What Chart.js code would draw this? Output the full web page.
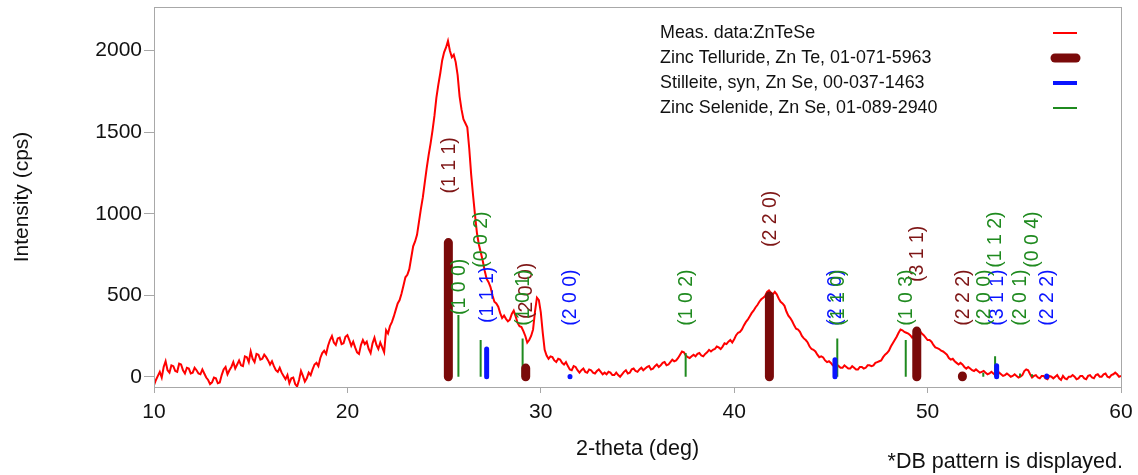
<!DOCTYPE html>
<html>
<head>
<meta charset="utf-8">
<script src="https://cdn.jsdelivr.net/npm/chart.js@4.4.1/dist/chart.umd.min.js"></script>
<style>
  html, body { margin: 0; padding: 0; background: #fff; }
  #wrap { width: 1138px; height: 475px; }
</style>
</head>
<body>
<div id="wrap"><canvas id="xrd" width="1138" height="475"></canvas></div>
<script>
// measured pattern, one value every 0.1 deg from 10 to 60 (one row per degree)
const thetaStart = 10
const thetaStep = 0.1
const measCps = [
  -51, -20, 5, 30, -5, 60, 95, 40, 25, 70,
  65, 35, 30, 80, 75, 40, 20, 55, 50, 20,
  25, 55, 40, 20, 15, 45, 20, -5, -20, -45,
  -35, -5, -10, -40, -35, 10, 45, 60, 15, 40,
  60, 90, 50, 75, 100, 70, 65, 125, 120, 90,
  155, 110, 90, 140, 135, 105, 110, 135, 120, 100,
  75, 95, 65, 40, 30, 55, 25, 5, -15, 10,
  -40, -10, -5, -45, -60, -20, 35, 5, -30, -10,
  25, 10, 45, 75, 85, 65, 115, 145, 160, 140,
  190, 225, 250, 210, 195, 235, 240, 200, 205, 245,
  255, 225, 190, 215, 180, 150, 140, 195, 225, 200,
  215, 170, 145, 205, 240, 195, 170, 210, 180, 150,
  285, 265, 310, 335, 370, 410, 450, 470, 510, 560,
  610, 625, 660, 730, 800, 830, 870, 950, 1030, 1100,
  1190, 1280, 1360, 1430, 1510, 1600, 1710, 1790, 1860, 1940,
  1990, 2020, 2060, 2000, 1960, 1975, 1930, 1850, 1720, 1640,
  1580, 1555, 1530, 1400, 1240, 1110, 990, 880, 810, 760,
  710, 650, 600, 580, 550, 500, 460, 450, 430, 390,
  360, 375, 355, 340, 350, 385, 405, 370, 330, 310,
  305, 280, 250, 210, 225, 250, 290, 400, 485, 470,
  395, 270, 165, 130, 110, 125, 120, 100, 90, 110,
  105, 85, 75, 90, 65, 45, 40, 65, 60, 40,
  25, 40, 50, 30, 25, 45, 40, 25, 20, 35,
  45, 30, 15, 25, 15, 30, 25, 10, 10, 25,
  10, 0, 15, 30, 40, 20, 25, 45, 50, 35,
  30, 45, 55, 40, 50, 60, 65, 45, 50, 65,
  75, 60, 70, 85, 90, 70, 75, 90, 105, 95,
  100, 115, 135, 155, 150, 130, 120, 115, 125, 135,
  125, 140, 145, 130, 125, 140, 150, 165, 155, 165,
  170, 185, 180, 170, 185, 205, 200, 215, 225, 210,
  230, 255, 270, 275, 290, 315, 335, 350, 370, 390,
  405, 425, 440, 460, 475, 485, 495, 520, 530, 515,
  505, 520, 505, 480, 460, 450, 435, 400, 375, 360,
  340, 315, 295, 290, 275, 250, 235, 225, 210, 185,
  170, 165, 155, 135, 120, 125, 118, 100, 90, 95,
  85, 70, 65, 75, 65, 55, 55, 70, 60, 50,
  50, 65, 55, 45, 45, 60, 60, 50, 55, 70,
  70, 65, 70, 85, 90, 95, 100, 120, 135, 145,
  160, 185, 205, 225, 245, 270, 290, 285, 275, 270,
  265, 255, 240, 255, 275, 285, 280, 265, 255, 240,
  225, 225, 215, 195, 180, 175, 170, 160, 155, 145,
  135, 115, 105, 110, 95, 85, 75, 85, 75, 60,
  50, 60, 50, 40, 35, 45, 35, 25, 30, 35,
  25, 15, 20, 30, 20, 10, 15, 25, 15, 5,
  10, 20, 10, 0, 5, 15, 5, -5, 0, 10,
  35, 45, 40, 15, -5, 5, 10, -5, -10, 5,
  5, -10, -15, 5, 0, -10, 0, 10, -10, -20,
  5, -10, -15, 0, 0, 10, 0, -15, -10, 5,
  5, -10, -15, 5, 10, -5, -10, 10, 15, 0,
  0, 15, 20, 0, -5, 10, 15, 25, 15, 0,
  5
]

const xTicks = [10, 20, 30, 40, 50, 60]
const yTicks = [0, 500, 1000, 1500, 2000]

// DB patterns
const znteTheta = [25.22, 29.22, 41.82, 49.44, 51.80]
const znteInt   = [823, 53, 495, 280, 5]
const znteHkl   = ['(1 1 1)', '(2 0 0)', '(2 2 0)', '(3 1 1)', '(2 2 2)']

const stilTheta = [27.20, 31.51, 45.21, 53.57, 56.16]
const stilInt   = [170, 2, 104, 67, 4]
const stilHkl   = ['(1 1 1)', '(2 0 0)', '(2 2 0)', '(3 1 1)', '(2 2 2)']

const znseTheta = [25.74, 26.89, 29.06, 37.49, 45.33, 48.87, 52.88, 53.49, 54.78, 55.40]
const znseInt   = [378, 225, 235, 145, 235, 225, 25, 125, 20, 15]
const znseHkl   = ['(1 0 0)', '(0 0 2)', '(1 0 1)', '(1 0 2)', '(1 1 0)', '(1 0 3)', '(2 0 0)', '(1 1 2)', '(2 0 1)', '(0 0 4)']
const znseTier  = [0, 1, 0, 0, 0, 0, 0, 1, 0, 1]

const legendNames = [
    'Meas. data:ZnTeSe',
    'Zinc Telluride, Zn Te, 01-071-5963',
    'Stilleite, syn, Zn Se, 00-037-1463',
    'Zinc Selenide, Zn Se, 01-089-2940'
]

const RED = '#ff0000'
const MAROON = '#7a0a0a'
const BLUE = '#0a14ff'
const GREEN = '#1f8a1f'
const FONT = '"Liberation Sans", Arial, sans-serif'

const measData = measCps.map((v, i) => ({x: thetaStart + i * thetaStep, y: v}))

function sticks(theta, ints){
    const d = []
    theta.forEach((t, i) => {
        d.push({x: t, y: 0}, {x: t, y: ints[i]}, {x: t, y: null})
    })
    return d
}

const phases = [
    {theta: znteTheta, ints: znteInt, hkl: znteHkl, color: '#7e1616', gap: 49},
    {theta: stilTheta, ints: stilInt, hkl: stilHkl, color: BLUE, gap: 26},
    {theta: znseTheta, ints: znseInt, hkl: znseHkl, color: GREEN, gap: 0, tier: znseTier}
]

// hkl labels, rotated, above the sticks
const hklLabels = {
    id: 'hklLabels',
    afterDatasetsDraw(chart){
        const {ctx, scales: {x, y}} = chart
        const base = y.getPixelForValue(312)
        ctx.save()
        ctx.font = '19.5px ' + FONT
        ctx.textAlign = 'left'
        ctx.textBaseline = 'middle'
        phases.forEach(p => {
            p.theta.forEach((t, i) => {
                const px = x.getPixelForValue(t)
                let bottom = Math.min(y.getPixelForValue(p.ints[i]) - p.gap, base)
                if (p.tier) bottom -= p.tier[i] * 58
                ctx.save()
                ctx.translate(px + 1, bottom)
                ctx.rotate(-Math.PI / 2)
                ctx.fillStyle = p.color
                ctx.fillText(p.hkl[i], 0, 0)
                ctx.restore()
            })
        })
        ctx.restore()
    }
}

// frame, legend at top right, footnote
const decorations = {
    id: 'decorations',
    afterDraw(chart){
        const {ctx, chartArea: a} = chart
        ctx.save()
        ctx.strokeStyle = '#a8a8a8'
        ctx.lineWidth = 1
        ctx.strokeRect(a.left + 0.5, a.top + 0.5, a.right - a.left, a.bottom - a.top)

        ctx.font = '17.9px ' + FONT
        ctx.fillStyle = '#111'
        ctx.textBaseline = 'middle'
        ctx.textAlign = 'left'
        const styles = [
            {c: RED, w: 2},
            {c: MAROON, w: 9},
            {c: BLUE, w: 4},
            {c: GREEN, w: 2}
        ]
        legendNames.forEach((name, i) => {
            const yy = 33 + i * 25
            ctx.fillText(name, 660, yy)
            ctx.beginPath()
            ctx.lineCap = i === 1 ? 'round' : 'butt'
            ctx.strokeStyle = styles[i].c
            ctx.lineWidth = styles[i].w
            const x0 = i === 1 ? 1055 : 1053
            const x1 = i === 1 ? 1076 : 1077
            ctx.moveTo(x0, yy)
            ctx.lineTo(x1, yy)
            ctx.stroke()
        })

        ctx.font = '21.5px ' + FONT
        ctx.fillStyle = '#111'
        ctx.textAlign = 'right'
        ctx.fillText('*DB pattern is displayed.', 1123, 462)
        ctx.restore()
    }
}

const config = {
    type: 'line',
    data: {
        datasets: [{
            label: legendNames[0],
            data: measData,
            borderColor: RED,
            borderWidth: 2,
            pointRadius: 0,
            tension: 0,
            order: 4
        }, {
            label: legendNames[1],
            data: sticks(znteTheta, znteInt),
            borderColor: MAROON,
            borderWidth: 9,
            borderCapStyle: 'round',
            pointRadius: 0,
            spanGaps: false,
            order: 1
        }, {
            label: legendNames[2],
            data: sticks(stilTheta, stilInt),
            borderColor: BLUE,
            borderWidth: 5,
            borderCapStyle: 'round',
            pointRadius: 0,
            spanGaps: false,
            order: 2
        }, {
            label: legendNames[3],
            data: sticks(znseTheta, znseInt),
            borderColor: GREEN,
            borderWidth: 2,
            pointRadius: 0,
            spanGaps: false,
            order: 3
        }]
    },
    options: {
        responsive: false,
        animation: false,
        layout: {
            padding: {left: 0, top: 7, right: 17, bottom: 0}
        },
        scales: {
            x: {
                type: 'linear',
                min: 10,
                max: 60,
                afterBuildTicks: s => { s.ticks = xTicks.map(v => ({value: v})) },
                afterFit: s => { s.height = 88; s.paddingLeft = 0; s.paddingRight = 0 },
                grid: {drawOnChartArea: false, color: '#a8a8a8', tickLength: 6},
                border: {color: '#a8a8a8'},
                ticks: {
                    color: '#111',
                    padding: 7,
                    maxRotation: 0,
                    font: {family: FONT, size: 21}
                },
                title: {
                    display: true,
                    text: '2-theta (deg)',
                    color: '#111',
                    font: {family: FONT, size: 21.5},
                    padding: {top: 0, bottom: 13}
                }
            },
            y: {
                min: -63,
                max: 2268,
                afterBuildTicks: s => { s.ticks = yTicks.map(v => ({value: v})) },
                afterFit: s => { s.width = 154; s.paddingTop = 0; s.paddingBottom = 0 },
                grid: {drawOnChartArea: false, color: '#a8a8a8', tickLength: 10},
                border: {color: '#a8a8a8'},
                ticks: {
                    color: '#111',
                    padding: 2,
                    font: {family: FONT, size: 21},
                    callback: v => String(v)
                },
                title: {
                    display: true,
                    text: 'Intensity (cps)',
                    color: '#111',
                    font: {family: FONT, size: 21},
                    padding: {top: 10, bottom: 0}
                }
            }
        },
        plugins: {
            legend: {display: false},
            tooltip: {enabled: false}
        }
    },
    plugins: [hklLabels, decorations]
}

const ctx = document.getElementById('xrd').getContext('2d')
const xrdChart = new Chart(ctx, config)
</script>
</body>
</html>
